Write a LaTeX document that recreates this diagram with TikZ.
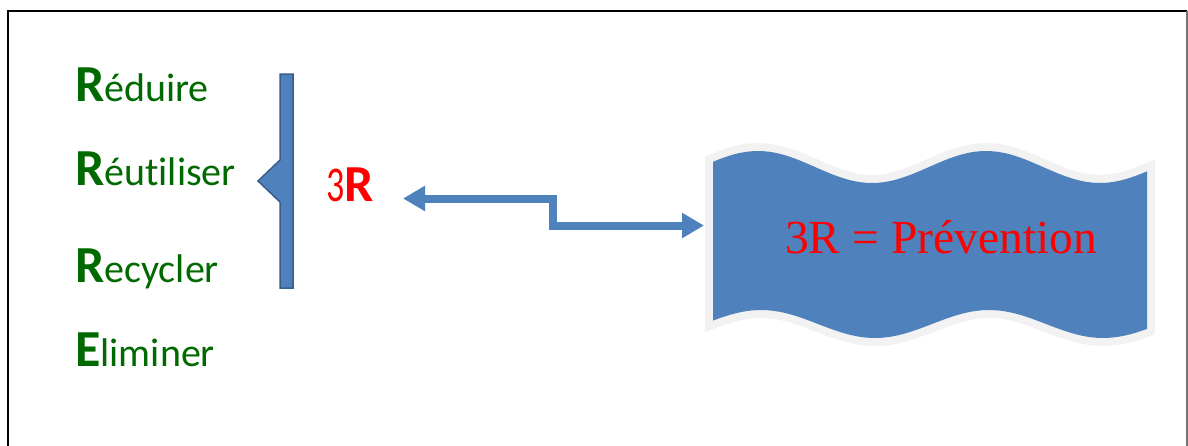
\documentclass[tikz,border=0pt]{standalone}
\usepackage{fontspec}
\setmainfont{Liberation Serif}
\newfontfamily\calfont[Ligatures=NoCommon]{Carlito}
\usetikzlibrary{arrows.meta}
\definecolor{rgreen}{RGB}{0,105,0}
\definecolor{bfill}{RGB}{79,129,189}
\definecolor{bline}{RGB}{56,93,138}
\definecolor{wavegray}{RGB}{242,242,242}
\tikzset{
  word/.style={anchor=base west, inner sep=0pt, text=rgreen, font=\calfont},
  frame/.style={line width=2pt},
  bracebox/.style={fill=bfill, draw=bline, line width=1.5pt, line join=miter},
  link/.style={draw=bfill, line width=8pt, line join=miter,
    {Triangle[length=22pt,width=24pt]}-{Triangle[length=22pt,width=24pt]}},
}
\newcommand{\bigR}[1]{{\fontsize{52}{52}\selectfont\bfseries #1}}
\newcommand{\wavepath}{%
  plot[domain=713:1147, samples=80] (\x, {167+16*cos((\x-872)*1.578947)})
  -- plot[domain=1147:713, samples=80] (\x, {324+14*cos((\x-875)*1.578947)})
  -- cycle}
\begin{document}
\begin{tikzpicture}[x=1pt,y=-1pt]
\useasboundingbox (0,0) rectangle (1188,445);
% frame
\draw[frame] (8,470) -- (8,11) -- (1187,11);
\draw[frame, black!55] (1187,11) -- (1187,470);
% words
\node[word] (w1) at (75,101) {\bigR{R}\fontsize{40}{40}\selectfont éduire};
\node[word] (w2) at (75,185) {\bigR{R}\fontsize{40}{40}\selectfont éutiliser};
\node[word] (w3) at (75,282) {\bigR{R}\fontsize{40}{40}\selectfont ecycler};
\node[word] (w4) at (75,366) {\bigR{E}\fontsize{40}{40}\selectfont liminer};
% brace
\draw[bracebox] (280,74) -- (293,74) -- (293,288) -- (280,288) -- (280,202)
  -- (258,181) -- (280,160) -- cycle;
% 3R
\node[anchor=base west, inner sep=0pt, text=red, font=\calfont] (tr) at (326,201)
  {\fontsize{50}{50}\selectfont\scalebox{0.72}[1]{3}\fontsize{52}{52}\selectfont\bfseries R};
% wave
\path[draw=wavegray, line width=16pt, fill=bfill, line join=miter] \wavepath;
\fill[bfill] \wavepath;
\node[anchor=base west, inner sep=0pt, text=red] (prev) at (785,253)
  {\fontsize{47.5}{48}\selectfont 3R = Prévention};
% connector
\coordinate (aL) at (403,198.5);
\coordinate (aR) at (704,225.5);
\draw[link] (aL) -- (553,198.5) -- (553,225.5) -- (aR);
\end{tikzpicture}
\end{document}
